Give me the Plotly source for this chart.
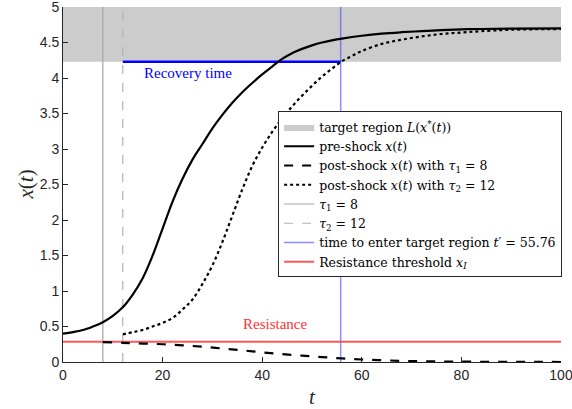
import plotly.graph_objects as go

# ---- data ----
t_pre = [0, 2, 4, 6, 8, 10, 12, 14, 16, 18, 20, 22, 24, 26, 28, 30, 32, 34, 36, 38, 40, 42, 44, 46, 48, 50,
         52, 54, 56, 60, 64, 68, 72, 76, 80, 84, 90, 100]
pre_shock = [0.40, 0.42, 0.45, 0.50, 0.56, 0.65, 0.77, 0.95, 1.18, 1.50, 1.88, 2.26, 2.58, 2.85, 3.07, 3.29,
             3.48, 3.65, 3.80, 3.93, 4.05, 4.16, 4.27, 4.35, 4.41, 4.46, 4.50, 4.53, 4.555, 4.595, 4.625, 4.645,
             4.66, 4.675, 4.685, 4.69, 4.695, 4.70]

t_tau1 = [8, 12, 16, 20, 24, 28, 32, 36, 40, 44, 48, 52, 56, 60, 64, 68, 72, 76, 80, 84, 88, 92, 96, 100]
post_tau1 = [0.28, 0.27, 0.26, 0.25, 0.235, 0.215, 0.19, 0.165, 0.135, 0.11, 0.09, 0.07, 0.05, 0.035, 0.025,
             0.016, 0.01, 0.007, 0.005, 0.003, 0.002, 0.001, 0.001, 0.0]

t_tau2 = [12, 14, 16, 18, 20, 22, 24, 26, 28, 30, 32, 34, 36, 38, 40, 42, 44, 46, 48, 50, 52, 54, 56, 58,
          60, 64, 68, 72, 76, 80, 84, 90, 100]
post_tau2 = [0.39, 0.42, 0.45, 0.50, 0.55, 0.62, 0.74, 0.88, 1.10, 1.36, 1.69, 2.06, 2.43, 2.76, 3.02, 3.24,
             3.43, 3.60, 3.75, 3.89, 4.02, 4.13, 4.235, 4.31, 4.38, 4.48, 4.54, 4.585, 4.62, 4.64, 4.66, 4.68, 4.69]

target_low = 4.23
target_high = 5.0
tau1 = 8
tau2 = 12
t_enter = 55.76
resistance_threshold = 0.285
t_range = [0, 100]
y_range = [0, 5]

serif = "DejaVu Serif"
serif2 = "Liberation Serif"
sans = "Liberation Sans"

fig = go.Figure()

# target region
fig.add_trace(go.Scatter(
    x=[t_range[0], t_range[1], t_range[1], t_range[0], t_range[0]],
    y=[target_low, target_low, target_high, target_high, target_low],
    fill="toself", fillcolor="#cccccc", mode="lines", line=dict(width=0, color="#cccccc"),
    name="target region <i>L</i>(<i>x</i><sup>*</sup>(<i>t</i>))", hoverinfo="skip", legendrank=1))

# vertical reference lines (drawn beneath curves)
fig.add_trace(go.Scatter(x=[tau1, tau1], y=y_range, mode="lines",
                         line=dict(color="#a6a6a6", width=1.2),
                         name="<i>τ</i><sub>1</sub> = 8", legendrank=5))
fig.add_trace(go.Scatter(x=[tau2, tau2], y=y_range, mode="lines",
                         line=dict(color="#b3b3b3", width=1.2, dash="dash"),
                         name="<i>τ</i><sub>2</sub> = 12", legendrank=6))
fig.add_trace(go.Scatter(x=[t_enter, t_enter], y=y_range, mode="lines",
                         line=dict(color="rgba(80,80,255,0.65)", width=1.5),
                         name="time to enter target region <i>t</i>′ = 55.76", legendrank=7))

# recovery time bar
fig.add_trace(go.Scatter(x=[tau2, t_enter], y=[target_low, target_low], mode="lines",
                         line=dict(color="#0000ff", width=2.5), showlegend=False))

# resistance threshold
fig.add_trace(go.Scatter(x=t_range, y=[resistance_threshold, resistance_threshold], mode="lines",
                         line=dict(color="rgba(255,60,60,0.85)", width=2.2),
                         name="Resistance threshold <i>x</i><sub><i>I</i></sub>", legendrank=8))

# curves
fig.add_trace(go.Scatter(x=t_pre, y=pre_shock, mode="lines", line=dict(color="black", width=2.2, shape="spline"),
                         name="pre-shock <i>x</i>(<i>t</i>)", legendrank=2))
fig.add_trace(go.Scatter(x=t_tau1, y=post_tau1, mode="lines",
                         line=dict(color="black", width=2.2, dash="dash", shape="spline"),
                         name="post-shock <i>x</i>(<i>t</i>) with <i>τ</i><sub>1</sub> = 8", legendrank=3))
fig.add_trace(go.Scatter(x=t_tau2, y=post_tau2, mode="lines",
                         line=dict(color="black", width=2.2, dash="dot", shape="spline"),
                         name="post-shock <i>x</i>(<i>t</i>) with <i>τ</i><sub>2</sub> = 12", legendrank=4))

fig.add_annotation(x=25.0, y=4.07, text="Recovery time", showarrow=False,
                   font=dict(family=serif2, size=15, color="#0000ff"))
fig.add_annotation(x=42.6, y=0.535, text="Resistance", showarrow=False,
                   font=dict(family=serif2, size=15, color="#ff3333"))
# y-axis title placed as annotation for exact position
fig.add_annotation(xref="paper", yref="paper", x=0, y=0.5, xshift=-38, textangle=-90,
                   xanchor="center", yanchor="middle",
                   text="<i>x</i>(<i>t</i>)", showarrow=False,
                   font=dict(family=serif2, size=21, color="#262626"))

axis_common = dict(showgrid=False, zeroline=False, showline=True, linecolor="#262626", linewidth=1,
                   ticks="inside", ticklen=5, tickcolor="#262626", ticklabeloverflow="allow",
                   automargin=False,
                   tickfont=dict(family=sans, size=14, color="#262626"), mirror=False)

fig.update_layout(
    width=572, height=409,
    margin=dict(l=63, r=11, t=7, b=47, autoexpand=False),
    plot_bgcolor="white", paper_bgcolor="white",
    xaxis=dict(range=t_range, tickvals=[0, 20, 40, 60, 80, 100],
               title=dict(text="<i>t</i>", font=dict(family=serif2, size=21, color="#262626")),
               **axis_common),
    yaxis=dict(range=y_range, tickvals=[0, 0.5, 1, 1.5, 2, 2.5, 3, 3.5, 4, 4.5, 5],
               ticktext=["0", "0.5", "1", "1.5", "2", "2.5", "3", "3.5", "4", "4.5", "5"],
               **axis_common),
    legend=dict(x=0.432, y=0.706, xanchor="left", yanchor="top",
                bgcolor="white", bordercolor="#262626", borderwidth=1,
                font=dict(family=serif, size=12.5, color="black"),
                tracegroupgap=0, itemwidth=30, traceorder="normal"),
    showlegend=True,
)

fig.write_html("out.html")
